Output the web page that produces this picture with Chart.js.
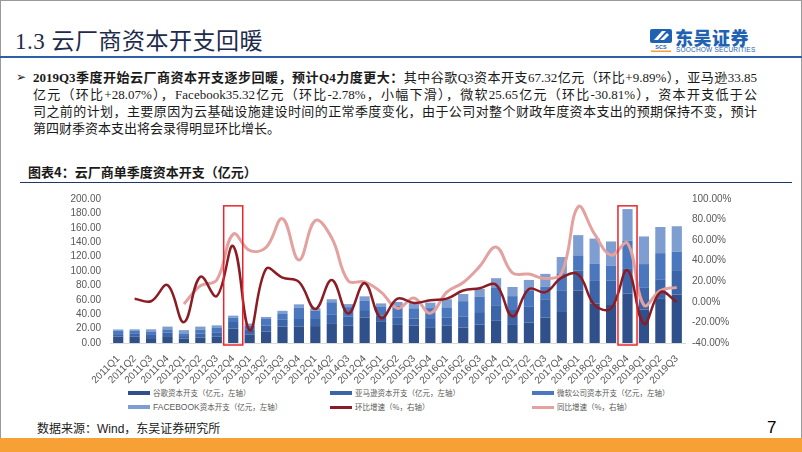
<!DOCTYPE html>
<html>
<head>
<meta charset="utf-8">
<script src="https://cdn.jsdelivr.net/npm/chart.js@4.4.1/dist/chart.umd.min.js"></script>
<style>
  html,body{margin:0;padding:0;background:#fff;}
  #slide{position:relative;width:802px;height:452px;overflow:hidden;background:#fff;font-family:"Liberation Serif","Noto Sans CJK SC",serif;}
  .abs{position:absolute;}
  #frame{left:0;top:0;width:800px;height:440px;border:1px solid #9a9a9a;border-bottom:none;}
  #title{left:15px;top:27px;font-size:23px;line-height:30px;color:#1d2b4c;white-space:nowrap;letter-spacing:0.5px;}
  #hline{left:0;top:56px;width:802px;height:2px;background:#2f5ea8;}
  #logoText{left:675px;top:27px;font-family:"Noto Sans CJK SC",sans-serif;font-weight:900;font-size:18px;line-height:20px;color:#1f62b3;letter-spacing:0.5px;}
  #logoSub{left:676px;top:46px;font-family:"Liberation Sans",Arial,sans-serif;font-size:6.5px;line-height:7px;color:#1f62b3;letter-spacing:0.2px;}
  .pl{left:33px;width:724px;font-size:13px;line-height:17px;height:17px;color:#1a1a1a;text-align:justify;text-align-last:justify;white-space:nowrap;}
  .pl.last{text-align-last:left;}
  #bullet{left:16px;top:69px;font-size:12px;line-height:17px;color:#1a1a1a;font-family:"DejaVu Sans",sans-serif;}
  #ctitle{left:28px;top:164px;font-size:13px;line-height:16px;font-weight:bold;color:#1a1a1a;font-family:"Noto Sans CJK SC",sans-serif;}
  #cline{left:20px;top:182px;width:772px;height:1px;background:#1f3864;}
  #chartBox{left:0;top:184px;width:802px;height:200px;}
  .lg{position:absolute;height:14px;line-height:14px;font-size:7.5px;color:#595959;font-family:"Noto Sans CJK SC",sans-serif;white-space:nowrap;}
  .lg .mk{position:absolute;left:0;top:5px;width:22px;height:4px;}
  .lg .tx{position:absolute;left:25px;top:0;}
  .lg .tx .lat{font-family:"Liberation Sans",Arial,sans-serif;font-size:8.5px;}
  #source{left:37px;top:420px;font-size:12px;line-height:16px;color:#1a1a1a;font-family:"Noto Sans CJK SC",sans-serif;}
  #source .lat{font-family:"Liberation Sans",Arial,sans-serif;}
  #page{left:767px;top:418px;font-size:17px;line-height:20px;color:#000;font-family:"Liberation Sans",Arial,sans-serif;}
  #orange{left:0;top:438px;width:802px;height:14px;background:#f7a035;}
</style>
</head>
<body>
<div id="slide">
  <div id="frame" class="abs"></div>
  <div id="title" class="abs">1.3 云厂商资本开支回暖</div>
  <div id="hline" class="abs"></div>
  <svg class="abs" style="left:648px;top:27px" width="26" height="26" viewBox="0 0 26 26">
    <path d="M4 2 H22 Q24 2 24 4 V14 Q24 16 22 16 H4 Q2 16 2 14 V4 Q2 2 4 2 Z" fill="#1f62b3"/>
    <path d="M6 13 L14 4 L18 4 L10 13 Z" fill="#fff"/>
    <path d="M12 13 L19 6 L21 8 L16 13 Z" fill="#fff"/>
    <text x="13" y="22" font-size="5.5" font-family="Liberation Sans,Arial" font-weight="bold" fill="#1f62b3" text-anchor="middle">SCS</text>
    <rect x="3" y="23.5" width="20" height="1.5" fill="#f7a035"/>
  </svg>
  <div id="logoText" class="abs">东吴证券</div>
  <div id="logoSub" class="abs">SOOCHOW SECURITIES</div>

  <div id="bullet" class="abs">➢</div>
  <div class="abs pl" style="top:69px"><b>2019Q3季度开始云厂商资本开支逐步回暖，预计Q4力度更大：</b>其中谷歌Q3资本开支67.32亿元（环比+9.89%），亚马逊33.85</div>
  <div class="abs pl" style="top:86px">亿元（环比+28.07%），Facebook35.32亿元（环比-2.78%，小幅下滑），微软25.65亿元（环比-30.81%），资本开支低于公</div>
  <div class="abs pl" style="top:103px">司之前的计划，主要原因为云基础设施建设时间的正常季度变化，由于公司对整个财政年度资本支出的预期保持不变，预计</div>
  <div class="abs pl last" style="top:120px">第四财季资本支出将会录得明显环比增长。</div>

  <div id="ctitle" class="abs">图表4：云厂商单季度资本开支（亿元）</div>
  <div id="cline" class="abs"></div>

  <div id="chartBox" class="abs"><canvas id="c"></canvas></div>
  <div id="legend"></div>

  <div id="source" class="abs">数据来源：<span class="lat">Wind</span>，东吴证券研究所</div>
  <div id="page" class="abs">7</div>
  <div id="orange" class="abs"></div>
</div>

<script>
// ---------- data ----------
const categories = ['2011Q1','2011Q2','2011Q3','2011Q4','2012Q1','2012Q2','2012Q3','2012Q4',
  '2013Q1','2013Q2','2013Q3','2013Q4','2012Q1','2014Q2','2014Q3','2012Q4',
  '2015Q1','2015Q2','2015Q3','2015Q4','2016Q1','2016Q2','2016Q3','2016Q4',
  '2017Q1','2017Q2','2017Q3','2017Q4','2018Q1','2018Q2','2018Q3','2018Q4',
  '2019Q1','2019Q2','2019Q3'];

const googleCapex = [8.9,9.2,6.8,9.5,6.1,7.7,8.7,20.2,12.0,16.0,22.9,22.6,23.5,26.5,24.2,35.5,
  29.3,25.2,24.2,21.0,24.4,21.4,25.5,30.8,25.1,28.3,35.4,43.1,73.0,54.8,52.8,68.5,46.4,61.3,67.32];
const amazonCapex = [3.4,3.5,4.4,5.2,3.5,5.6,6.2,9.0,6.2,8.4,9.3,10.7,9.8,12.6,12.2,10.2,
  8.7,10.4,10.0,12.3,11.2,15.0,17.4,20.7,20.7,21.9,24.5,29.3,27.9,32.4,34.2,34.4,30.2,26.43,33.85];
const microsoftCapex = [5.0,4.7,4.8,4.2,3.8,5.4,6.0,6.0,5.8,9.8,8.9,15.5,11.4,17.5,13.4,12.7,
  12.0,16.5,14.0,15.2,13.9,21.7,21.1,25.8,19.3,23.0,18.5,24.4,20.8,23.2,20.6,39.4,33.0,37.07,25.65];
const facebookCapex = [1.5,1.6,3.0,3.9,4.5,4.1,3.6,2.8,3.0,2.0,3.6,4.9,3.6,4.2,4.2,6.4,
  5.0,4.9,7.8,7.5,11.3,9.9,11.0,12.7,12.7,14.4,17.6,22.6,28.1,34.6,33.4,43.7,38.4,36.33,35.32];

// growth rates (%)
const qoqGrowth = [null,3.1,0.6,16.3,-19.7,24.4,5.6,54.2,-27.6,32.0,23.5,19.4,-6.9,21.3,-11.3,18.2,
  -15.7,3.1,-1.0,1.6,3.1,11.0,13.2,16.6,-14.1,12.5,9.4,23.5,26.6,-3.1,-6.3,30.7,-21.3,9.4,0.0];
const yoyGrowth = [null,null,null,null,-2.2,15.7,21.3,65.8,50.0,53.0,80.8,40.7,79.0,62.0,20.4,19.4,
  9.4,-6.3,3.8,-11.0,9.4,18.8,34.5,53.3,28.2,27.0,22.6,28.2,92.4,65.8,45.4,57.0,-3.1,11.0,14.1];

const leftTicks = {min:0, max:200, step:20};
const rightTicks = {min:-40, max:100, step:20};
const highlightCats = [7, 31]; // indices of the boxed quarters (2012Q4, 2018Q4)

const seriesNames = ['谷歌资本开支（亿元，左轴）','亚马逊资本开支（亿元，左轴）','微软公司资本开支（亿元，左轴）',
  'FACEBOOK资本开支（亿元，左轴）','环比增速（%，右轴）','同比增速（%，右轴）'];
const colors = ['#2f508a','#3b65a8','#4b77be','#7e9dd0','#8b1c24','#e3a1a0'];

// ---------- chart ----------
const highlightPlugin = {
  id:'highlight',
  afterDatasetsDraw(chart){
    const {ctx, scales:{x,y}} = chart;
    const w = x.getPixelForValue(1) - x.getPixelForValue(0);
    ctx.save();
    ctx.strokeStyle = '#e8262b';
    ctx.lineWidth = 1.5;
    highlightCats.forEach(i=>{
      const cx = x.getPixelForValue(i);
      const top = y.getPixelForValue(190.5);
      const bottom = y.getPixelForValue(0) + 2;
      ctx.strokeRect(cx - w*0.58, top, w*1.16, bottom - top);
    });
    ctx.restore();
  }
};

const barData = [googleCapex, amazonCapex, microsoftCapex, facebookCapex];
const datasets = barData.map((d,i)=>({
  type:'bar', label:seriesNames[i], data:d, backgroundColor:colors[i], stack:'capex',
  yAxisID:'y', order:3, barPercentage:0.62, categoryPercentage:1.0, borderWidth:0
}));
datasets.push({type:'line', label:seriesNames[4], data:qoqGrowth, borderColor:colors[4], borderWidth:2.5,
  pointRadius:0, tension:0.4, yAxisID:'y2', order:0, spanGaps:false, fill:false});
datasets.push({type:'line', label:seriesNames[5], data:yoyGrowth, borderColor:colors[5], borderWidth:3,
  pointRadius:0, tension:0.4, yAxisID:'y2', order:1, spanGaps:false, fill:false});

const tickFont = {family:'"Liberation Sans", Arial, sans-serif', size:10};
new Chart(document.getElementById('c'), {
  data:{labels:categories, datasets},
  options:{
    responsive:true, maintainAspectRatio:false, animation:false,
    layout:{padding:{top:10,left:0,right:0,bottom:0}},
    plugins:{legend:{display:false}, tooltip:{enabled:false}},
    scales:{
      x:{stacked:true, grid:{display:false}, border:{display:true,color:'#d9d9d9'},
        ticks:{autoSkip:false, maxRotation:45, minRotation:45, font:tickFont, color:'#595959', padding:2},
        afterFit(s){ s.height = 41; }},
      y:{stacked:true, position:'left', min:leftTicks.min, max:leftTicks.max,
        grid:{display:false, drawTicks:false}, border:{display:false},
        ticks:{autoSkip:false, stepSize:leftTicks.step, font:tickFont, color:'#595959', padding:9, callback:v=>Number(v).toFixed(2)},
        afterFit(s){ s.width = 110; }},
      y2:{position:'right', min:rightTicks.min, max:rightTicks.max,
        grid:{display:false, drawTicks:false}, border:{display:false},
        ticks:{autoSkip:false, stepSize:rightTicks.step, font:tickFont, color:'#595959', padding:7, callback:v=>Number(v).toFixed(2)+'%'},
        afterFit(s){ s.width = 117; }}
    }
  },
  plugins:[highlightPlugin]
});

// ---------- legend ----------
const lgCols = [128, 330, 532], lgRows = [386, 400];
const lg = document.getElementById('legend');
seriesNames.forEach((name,i)=>{
  const d = document.createElement('div');
  d.className = 'lg';
  d.style.left = lgCols[i%3] + 'px';
  d.style.top = lgRows[Math.floor(i/3)] + 'px';
  const label = name.replace('FACEBOOK','<span class="lat">FACEBOOK</span>');
  d.innerHTML = '<div class="mk" style="background:'+colors[i]+(i>=4?';height:3px;top:5.5px':'')+'"></div><div class="tx">'+label+'</div>';
  lg.appendChild(d);
});
</script>
</body>
</html>
